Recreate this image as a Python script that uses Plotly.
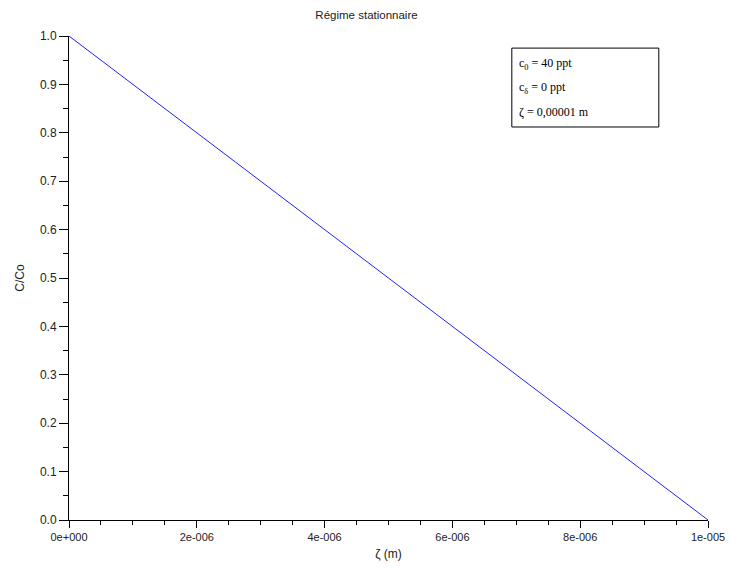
import plotly.graph_objects as go

zeta = [0.0, 1e-05]
c_ratio = [1.0, 0.0]
x_tickvals = [0, 2e-6, 4e-6, 6e-6, 8e-6, 1e-5]
x_ticktext = ["0e+000", "2e-006", "4e-006", "6e-006", "8e-006", "1e-005"]
y_tickvals = [0.0, 0.1, 0.2, 0.3, 0.4, 0.5, 0.6, 0.7, 0.8, 0.9, 1.0]
y_ticktext = ["0.0", "0.1", "0.2", "0.3", "0.4", "0.5", "0.6", "0.7", "0.8", "0.9", "1.0"]
legend_lines = ["c<sub>0</sub> = 40 ppt", "c<sub>δ</sub> = 0 ppt", "ζ = 0,00001 m"]

fig = go.Figure()
fig.add_trace(go.Scatter(x=zeta, y=c_ratio, mode="lines",
                         line=dict(color="#2020ff", width=1), showlegend=False))

fig.update_layout(
    width=717, height=553,
    margin=dict(l=61, r=17, t=28, b=41, autoexpand=False),
    paper_bgcolor="white", plot_bgcolor="white",
    font=dict(family="Liberation Sans, Arial", size=12, color="#222"),
    title=dict(text="Régime stationnaire", x=0.5, xanchor="center", y=1 - 7 / 553, yanchor="middle",
               font=dict(size=11.5, color="#222")),
    xaxis=dict(range=[0, 1e-5], tickvals=x_tickvals, ticktext=x_ticktext, automargin=False,
               ticklabeloverflow="allow", tickfont=dict(size=11),
               showgrid=False, zeroline=False, showline=True, linecolor="black", linewidth=1,
               ticks="outside", ticklen=7, tickcolor="black",
               minor=dict(ticks="outside", ticklen=4, dtick=5e-7, tickcolor="black"),
               title=dict(text="ζ (m)", standoff=10, font=dict(size=12))),
    yaxis=dict(range=[0, 1], tickvals=y_tickvals, ticktext=y_ticktext, automargin=False,
               showgrid=False, zeroline=False, showline=True, linecolor="black", linewidth=1,
               ticks="outside", ticklen=9, tickcolor="black",
               minor=dict(ticks="outside", ticklen=5, dtick=0.05, tickcolor="black"),
               title=dict(text="C/Co", standoff=12, font=dict(size=12))),
)

fig.add_shape(type="rect", xref="paper", yref="paper",
              x0=0.693, x1=0.923, y0=0.812, y1=0.975,
              line=dict(color="black", width=1), fillcolor="white")
for i, t in enumerate(legend_lines):
    fig.add_annotation(text=t, xref="paper", yref="paper", x=0.701, y=0.942 - i * 0.05,
                       xanchor="left", yanchor="middle", showarrow=False,
                       font=dict(family="Liberation Serif, Times New Roman", size=12, color="black"))

fig.write_html("out.html")
